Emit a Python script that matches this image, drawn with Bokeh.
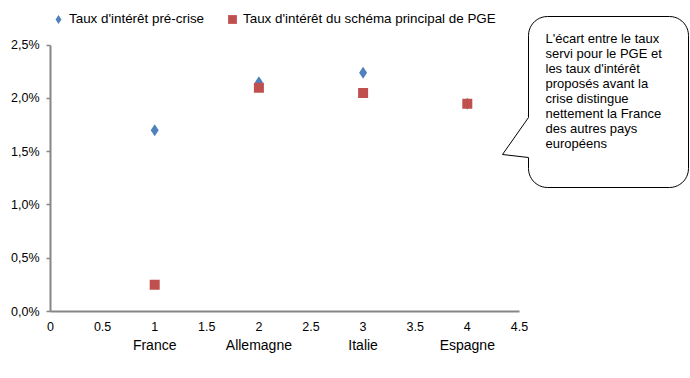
import numpy as np
from bokeh.plotting import figure
from bokeh.models import (Range1d, LinearAxis, FixedTicker, CustomJSTickFormatter,
                          Legend, LegendItem, ColumnDataSource)
from bokeh.core.properties import value
from bokeh.embed import file_html
from bokeh.resources import INLINE

# ---- data ----
countries = ["France", "Allemagne", "Italie", "Espagne"]
positions = [1, 2, 3, 4]
taux_pre_crise = [1.70, 2.15, 2.24, 1.95]
taux_pge = [0.25, 2.10, 2.05, 1.95]
series_names = ["Taux d'intérêt pré-crise", "Taux d'intérêt du schéma principal de PGE"]
y_ticks = [0, 0.5, 1.0, 1.5, 2.0, 2.5]
x_ticks = [0, 0.5, 1, 1.5, 2, 2.5, 3, 3.5, 4, 4.5]
callout_text = ("L'écart entre le taux\nservi pour le PGE et\nles taux d'intérêt\n"
                "proposés avant la\ncrise distingue\nnettement la France\n"
                "des autres pays\neuropéens")

# ---- layout ----
W, H = 690, 378
LEFT, BOTTOM = 50, 67
FW = W - LEFT
FH = H - BOTTOM
XS = 104.2   # px per x unit
YS = 106.6   # px per 1 %
FONT = "Liberation Sans"
AXIS_COLOR = "#868686"

p = figure(width=W, height=H, output_backend="svg", toolbar_location=None,
           x_range=Range1d(0, FW / XS), y_range=Range1d(0, FH / YS),
           min_border_left=LEFT, min_border_right=0, min_border_top=0,
           min_border_bottom=BOTTOM, x_axis_type=None, y_axis_type=None)
p.outline_line_color = None
p.background_fill_color = "white"
p.border_fill_color = "white"

yaxis = LinearAxis(ticker=FixedTicker(ticks=y_ticks),
                   formatter=CustomJSTickFormatter(code="return tick.toFixed(1).replace('.', ',') + '%';"),
                   bounds=(0, 2.5), axis_line_color=AXIS_COLOR, axis_line_width=2,
                   major_tick_line_color=AXIS_COLOR, major_tick_line_width=1.5,
                   major_tick_in=0, major_tick_out=4, minor_tick_line_color=None,
                   major_label_standoff=7, major_label_text_font=FONT,
                   major_label_text_font_size="12.5px", major_label_text_color="black")
p.add_layout(yaxis, "left")

xaxis = LinearAxis(ticker=FixedTicker(ticks=x_ticks),
                   formatter=CustomJSTickFormatter(code="return String(Math.round(tick*10)/10);"),
                   bounds=(0, 4.5), axis_line_color=AXIS_COLOR, axis_line_width=2,
                   major_tick_line_color=None, minor_tick_line_color=None,
                   major_tick_in=0, major_tick_out=0,
                   major_label_standoff=10, major_label_text_font=FONT,
                   major_label_text_font_size="12.5px", major_label_text_color="black")
p.add_layout(xaxis, "below")

caxis = LinearAxis(ticker=FixedTicker(ticks=positions),
                   formatter=CustomJSTickFormatter(args=dict(names=countries, pos=positions),
                                                   code="const i = pos.indexOf(tick); return i >= 0 ? names[i] : '';"),
                   axis_line_color=None, major_tick_line_color=None, minor_tick_line_color=None,
                   major_tick_in=0, major_tick_out=0,
                   major_label_standoff=3, major_label_text_font=FONT,
                   major_label_text_font_size="14px", major_label_text_color="black")
p.add_layout(caxis, "below")

src = ColumnDataSource(dict(x=positions, pre=taux_pre_crise, pge=taux_pge))
r1 = p.scatter("x", "pre", source=src, marker="diamond", size=12,
               fill_color="#4F81BD", line_color=None)
r2 = p.scatter("x", "pge", source=src, marker="square", size=10,
               fill_color="#C0504D", line_color=None)

legend = Legend(items=[LegendItem(label=series_names[0], renderers=[r1]),
                       LegendItem(label=series_names[1], renderers=[r2])],
                orientation="horizontal", location=(-3, FH - 29.5), padding=0, margin=0,
                spacing=17, label_standoff=0, glyph_width=22, glyph_height=22,
                border_line_color=None, background_fill_alpha=0,
                label_text_font=FONT, label_text_font_size="13.4px",
                label_text_color="black")
p.add_layout(legend, "center")

# ---- callout bubble (pixel geometry converted to data units) ----
L, T, R, B, RAD = 528, 16, 688, 187, 19
tip = (502, 154)
ptr_top, ptr_bot = 117, 157
pts = []
def arc(cx, cy, a0, a1):
    for a in np.linspace(np.radians(a0), np.radians(a1), 12):
        pts.append((cx + RAD * np.cos(a), cy + RAD * np.sin(a)))
arc(L + RAD, T + RAD, 180, 270)
arc(R - RAD, T + RAD, 270, 360)
arc(R - RAD, B - RAD, 0, 90)
arc(L + RAD, B - RAD, 90, 180)
pts += [(L, ptr_bot), tip, (L, ptr_top)]
bx = [(px - LEFT) / XS for px, _ in pts]
by = [(FH - py) / YS for _, py in pts]
p.patch(bx, by, fill_color="white", line_color="black", line_width=1)

p.text(x=[(545 - LEFT) / XS], y=[(FH - 30) / YS], text=[callout_text],
       text_font=value(FONT), text_font_size="13px", text_baseline="top",
       text_align="left", text_line_height=1.0, text_color="black")

open("out.html", "w").write(file_html(p, INLINE))
